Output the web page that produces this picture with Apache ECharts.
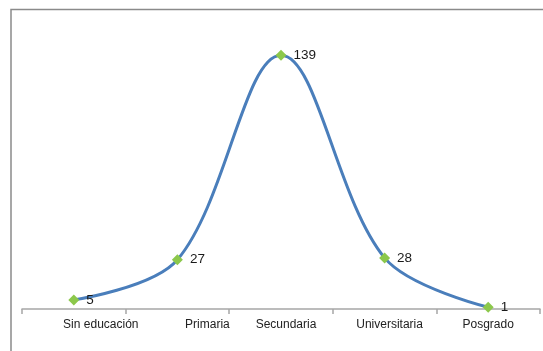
<!DOCTYPE html>
<html>
<head>
<meta charset="utf-8">
<script src="https://cdn.jsdelivr.net/npm/echarts@6/dist/echarts.min.js"></script>
<style>
  html, body { margin: 0; padding: 0; background: #fff; }
  #chart { width: 543px; height: 351px; }
</style>
</head>
<body>
<div id="chart"></div>
<script>
// Education level categories and counts
const categories = ['Sin educación', 'Primaria', 'Secundaria', 'Universitaria', 'Posgrado'];
const counts = [5, 27, 139, 28, 1];

// Horizontal nudge (px) for each category label under the axis
const labelShift = [27, 30, 5, 5, 0];

const axisData = categories.map((name, i) => ({
  value: name,
  textStyle: { padding: [0, 0, 0, labelShift[i] * 2] }
}));

const chart = echarts.init(document.getElementById('chart'));

chart.setOption({
  animation: false,
  backgroundColor: '#ffffff',
  grid: { left: 22, right: 3, top: 17, bottom: 42 },
  graphic: [{
    type: 'polyline',
    shape: { points: [[11, 351], [11, 9.5], [543, 9.5]] },
    style: { stroke: '#8a8a8a', lineWidth: 1.5, fill: null },
    silent: true
  }],
  xAxis: {
    type: 'category',
    data: axisData,
    boundaryGap: true,
    axisLine: { lineStyle: { color: '#a6a6a6', width: 1.5 } },
    axisTick: { show: true, length: 5, lineStyle: { color: '#a6a6a6', width: 1.5 } },
    axisLabel: {
      margin: 10,
      fontFamily: 'Liberation Sans',
      fontSize: 12,
      color: '#222'
    }
  },
  yAxis: {
    type: 'value',
    min: 0,
    max: 160,
    show: false,
    splitLine: { show: false }
  },
  series: [{
    type: 'line',
    data: counts,
    smooth: 0.35,
    symbol: 'diamond',
    symbolSize: 11,
    lineStyle: { color: '#4a7ebb', width: 3 },
    itemStyle: { color: '#8cc84b' },
    label: {
      show: true,
      position: 'right',
      distance: 7,
      fontFamily: 'Liberation Sans',
      fontSize: 13.5,
      color: '#1a1a1a'
    }
  }]
});
</script>
</body>
</html>
